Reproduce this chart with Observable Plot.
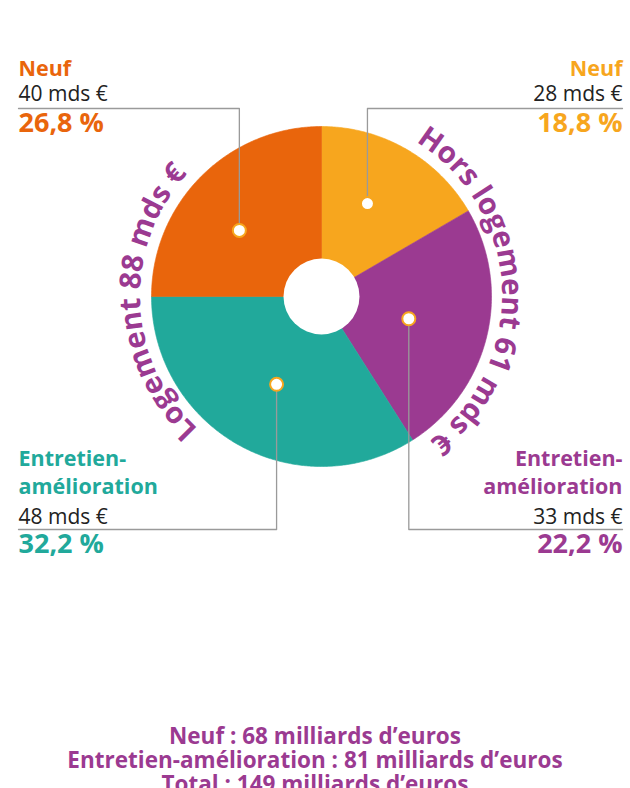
<!DOCTYPE html>
<html><head><meta charset="utf-8">
<script src="https://cdn.jsdelivr.net/npm/d3@7"></script>
<script src="https://cdn.jsdelivr.net/npm/@observablehq/plot@0.6"></script>
<style>
body{margin:0;background:#fff;}
#caption{width:630px;text-align:center;color:#9B3A91;font-family:"Open Sans",sans-serif;font-weight:700;font-size:22.5px;line-height:24px;}
</style></head><body><div id="chart"></div><div id="caption"></div>
<script>
// ---- data ----
const sliceKeys = ["neuf-hors", "ea-hors", "ea-log", "neuf-log"];
const sliceNames = ["Neuf", "Entretien-\namélioration", "Entretien-\namélioration", "Neuf"];
const amounts = [28, 33, 48, 40];                 // mds €
const amountLabels = ["28 mds €", "33 mds €", "48 mds €", "40 mds €"];
const percentLabels = ["18,8 %", "22,2 %", "32,2 %", "26,8 %"];
const drawnShares = [16.6, 24.4, 34.0, 25.0];     // slice sizes as drawn in the picture (%)
const sliceColors = ["#F7A61E", "#9B3A91", "#21A99B", "#E9650C"];
const groupLabels = ["Hors logement 61 mds €", "Logement 88 mds €"];
const captionLines = ["Neuf : 68 milliards d’euros", "Entretien-amélioration : 81 milliards d’euros", "Total : 149 milliards d’euros"];

// ---- layout ----
const W = 630, H = 724, R = 170, CX = 321, CY = 296;
const px2x = p => (p - CX) / R, px2y = p => (CY - p) / R;
const FONT = "'Open Sans', sans-serif";
const PURPLE = "#9B3A91";
const placement = [ // side / row per slice, and marker anchor (angle deg clockwise from top, radius fraction)
  {side: "right", row: "top", da: 26.3, dr: 0.61},
  {side: "right", row: "bottom", da: 104.3, dr: 0.53},
  {side: "left", row: "bottom", da: 207.1, dr: 0.58},
  {side: "left", row: "top", da: 308.8, dr: 0.62}
];
const ruleY = {top: 108, bottom: 529};
const edgeX = {left: 18, right: 622};

let acc = 0;
const slices = sliceKeys.map((key, i) => {
  const a0 = acc / 100 * 2 * Math.PI; acc += drawnShares[i];
  const a1 = acc / 100 * 2 * Math.PI;
  return {key, name: sliceNames[i], amount: amountLabels[i], pct: percentLabels[i],
          color: sliceColors[i], a0, a1, ...placement[i]};
});
const polyPts = slices.flatMap(s => {
  const pts = [{key: s.key, x: 0, y: 0}];
  const n = Math.max(2, Math.ceil((s.a1 - s.a0) / (Math.PI / 360)));
  for (let j = 0; j <= n; j++) {
    const a = s.a0 + (s.a1 - s.a0) * j / n;
    pts.push({key: s.key, x: Math.sin(a), y: Math.cos(a)});
  }
  pts.push({key: s.key, x: 0, y: 0});
  return pts;
});
slices.forEach(s => { const a = s.da * Math.PI / 180; s.dx = s.dr * Math.sin(a); s.dy = s.dr * Math.cos(a); });
const leaderPts = slices.flatMap(s => [
  {key: s.key, x: s.dx, y: s.dy},
  {key: s.key, x: s.dx, y: px2y(ruleY[s.row])},
  {key: s.key, x: px2x(edgeX[s.side]), y: px2y(ruleY[s.row])}
]);

const marks = [];
slices.forEach(s => marks.push(Plot.line(polyPts.filter(p => p.key === s.key),
  {x: "x", y: "y", fill: s.color, stroke: s.color, strokeWidth: 0.6})));
marks.push(Plot.dot([{x: 0, y: 0}], {x: "x", y: "y", r: 38, fill: "white", ariaLabel: "hole"}));
marks.push(Plot.line(leaderPts, {x: "x", y: "y", z: "key", stroke: "#9a9a9a", strokeWidth: 1.3}));
marks.push(Plot.dot(slices, {x: "dx", y: "dy", r: 6.5, fill: "white", stroke: "#F7A61E", strokeWidth: 2}));

slices.forEach(s => {
  const fa = s.side === "left" ? "top-left" : "top-right";
  const ta = s.side === "left" ? "start" : "end";
  const base = ruleY[s.row];
  const common = {frameAnchor: fa, textAnchor: ta, lineAnchor: "bottom", fontFamily: FONT};
  marks.push(Plot.text([s], {...common, text: "name", dy: base - 8 - 25 - (s.row === "bottom" ? 3 : 0), fill: s.color, fontWeight: 700, fontSize: 21.5, lineHeight: 1.3}));
  marks.push(Plot.text([s], {...common, text: "amount", dy: base - 8 + (s.row === "bottom" ? 2 : 0), fill: "#222", fontSize: 21}));
  marks.push(Plot.text([s], {...common, text: "pct", dy: base + 23, fill: s.color, fontWeight: 700, fontSize: 27}));
});

const chart = Plot.plot({
  width: W, height: H, margin: 0, marginLeft: 18, marginRight: 8,
  x: {domain: [-1, 1], range: [CX - R, CX + R], axis: null},
  y: {domain: [-1, 1], range: [CY + R, CY - R], axis: null},
  style: {fontFamily: FONT, background: "white"},
  marks
});
document.getElementById("chart").appendChild(chart);

// shadow of the hole
const hole = chart.querySelector('[aria-label="hole"]');
if (hole) hole.style.filter = "drop-shadow(8px -5px 7px rgba(0,0,0,0.75))";

// curved group labels
const svg = d3.select(chart);
const defs = svg.append("defs");
const groupArcs = [{label: groupLabels[0], center: 87.4}, {label: groupLabels[1], center: 267.7}];
const rb = 181;
groupArcs.forEach((g, i) => {
  const a0 = (g.center - 100) * Math.PI / 180, a1 = (g.center + 100) * Math.PI / 180;
  const d = `M${CX + rb * Math.sin(a0)},${CY - rb * Math.cos(a0)} A${rb},${rb} 0 1 1 ${CX + rb * Math.sin(a1)},${CY - rb * Math.cos(a1)}`;
  defs.append("path").attr("id", "garc" + i).attr("d", d);
  svg.append("text").attr("font-family", FONT).attr("font-weight", 700).attr("font-size", 29.5).attr("fill", PURPLE)
    .append("textPath").attr("href", "#garc" + i).attr("startOffset", "50%").attr("text-anchor", "middle").text(g.label);
});

d3.select("#caption").selectAll("div").data(captionLines).join("div").text(d => d);
</script></body></html>
